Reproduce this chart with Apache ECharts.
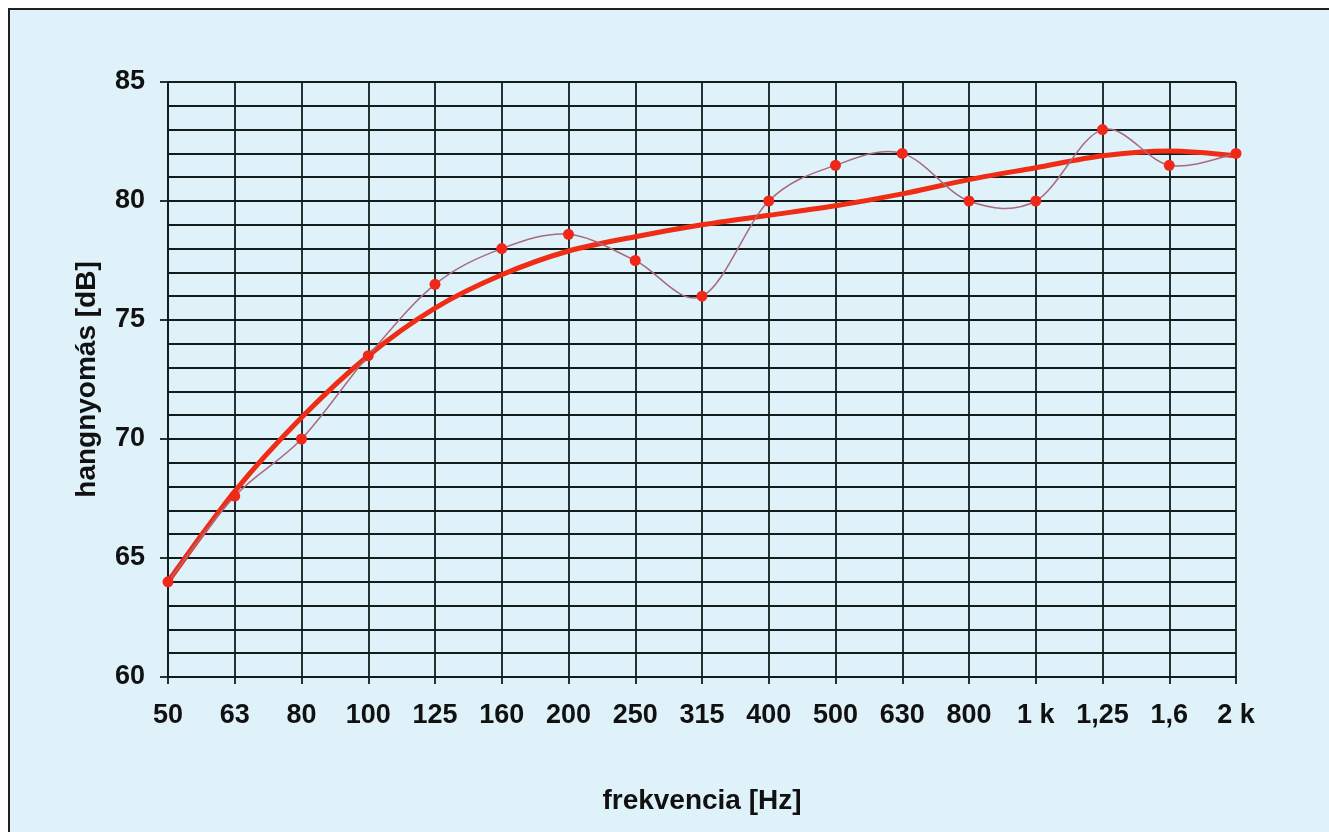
<!DOCTYPE html>
<html>
<head>
<meta charset="utf-8">
<script src="https://cdn.jsdelivr.net/npm/echarts@6/dist/echarts.min.js"></script>
<style>
  html, body { margin: 0; padding: 0; background: #ffffff; }
  #frame { position: absolute; left: 0; top: 0; width: 1329px; height: 832px; background: #ffffff; overflow: hidden; }
  #chart { position: absolute; left: 8px; top: 8px; width: 1321px; height: 824px;
           border-top: 2px solid #231f20; border-left: 2px solid #231f20; background: #dff1f9; }
</style>
</head>
<body>
<div id="frame"><div id="chart"></div></div>
<script>
// Categories (frequency bands)
const categories = ['50', '63', '80', '100', '125', '160', '200', '250', '315', '400', '500', '630', '800', '1 k', '1,25', '1,6', '2 k'];
// Measured sound pressure level [dB]
const measured = [64, 67.6, 70, 73.5, 76.5, 78, 78.6, 77.5, 76, 80, 81.5, 82, 80, 80, 83, 81.5, 82];
// Trend curve [dB]
const trend = [64.0, 67.8, 70.9, 73.5, 75.5, 76.9, 77.9, 78.5, 79.0, 79.4, 79.8, 80.3, 80.9, 81.4, 81.9, 82.1, 81.9];
// Axis range
const yMin = 60, yMax = 85, yStep = 5;

const chart = echarts.init(document.getElementById('chart'), null, { renderer: 'canvas' });
const fontFamily = '"Liberation Sans", Arial, sans-serif';
const gridLine = { color: '#121c1b', width: 1.8 };

// Smooth (Catmull-Rom style) path through the measured points, positioned via the axis scales
function renderSmooth(params, api) {
  if (params.dataIndex !== 0) return null;
  const pts = measured.map((v, i) => api.coord([i, v]));
  let d = 'M' + pts[0][0] + ' ' + pts[0][1];
  for (let i = 0; i < pts.length - 1; i++) {
    const p0 = pts[Math.max(i - 1, 0)];
    const p1 = pts[i];
    const p2 = pts[i + 1];
    const p3 = pts[Math.min(i + 2, pts.length - 1)];
    const c1x = p1[0] + (p2[0] - p0[0]) / 6, c1y = p1[1] + (p2[1] - p0[1]) / 6;
    const c2x = p2[0] - (p3[0] - p1[0]) / 6, c2y = p2[1] - (p3[1] - p1[1]) / 6;
    d += ' C' + c1x + ' ' + c1y + ' ' + c2x + ' ' + c2y + ' ' + p2[0] + ' ' + p2[1];
  }
  return {
    type: 'path',
    shape: { pathData: d },
    style: { fill: null, stroke: '#a86a80', lineWidth: 1.5 }
  };
}

chart.setOption({
  backgroundColor: '#dff1f9',
  animation: false,
  grid: { left: 158, right: 95, top: 72, bottom: 157, containLabel: false },
  xAxis: {
    type: 'category',
    data: categories,
    boundaryGap: false,
    name: 'frekvencia [Hz]',
    nameLocation: 'middle',
    nameGap: 110,
    nameTextStyle: { fontFamily, fontWeight: 'bold', fontSize: 28, color: '#111' },
    axisLine: { show: true, lineStyle: gridLine },
    axisTick: { show: true, length: 7, alignWithLabel: true, lineStyle: gridLine },
    axisLabel: { margin: 25, fontFamily, fontWeight: 'bold', fontSize: 27, color: '#111', interval: 0 },
    splitLine: { show: true, lineStyle: gridLine }
  },
  yAxis: {
    type: 'value',
    min: yMin, max: yMax, interval: yStep,
    name: 'hangnyomás [dB]',
    nameLocation: 'middle',
    nameGap: 67,
    nameTextStyle: { fontFamily, fontWeight: 'bold', fontSize: 28, color: '#111' },
    axisLine: { show: true, lineStyle: gridLine },
    axisTick: { show: true, length: 8, lineStyle: gridLine },
    axisLabel: { margin: 23, fontFamily, fontWeight: 'bold', fontSize: 27, color: '#111' },
    splitLine: { show: true, lineStyle: gridLine },
    minorTick: { show: false, splitNumber: 5 },
    minorSplitLine: { show: true, lineStyle: gridLine }
  },
  series: [
    {
      name: 'trend',
      type: 'line',
      data: trend,
      smooth: 0.3,
      showSymbol: false,
      symbol: 'none',
      lineStyle: { color: '#ee2d14', width: 5 },
      z: 2
    },
    {
      name: 'measured-curve',
      type: 'custom',
      data: measured.map((v, i) => [i, v]),
      encode: { x: 0, y: 1 },
      renderItem: renderSmooth,
      z: 3
    },
    {
      name: 'measured',
      type: 'line',
      data: measured,
      symbol: 'circle',
      symbolSize: 11,
      itemStyle: { color: '#f0281a' },
      lineStyle: { width: 0, opacity: 0 },
      z: 4
    }
  ]
});
</script>
</body>
</html>
